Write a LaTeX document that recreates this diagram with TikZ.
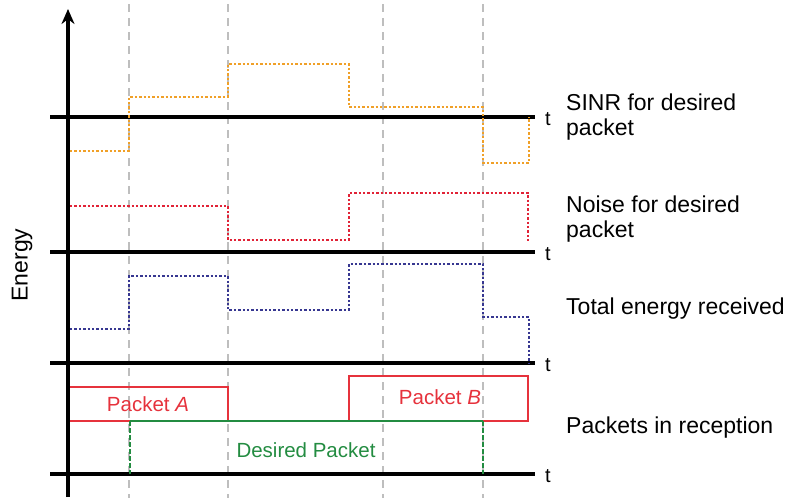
\documentclass[tikz,border=0pt]{standalone}
\usepackage{fontspec}
\setmainfont{Liberation Sans}
\usetikzlibrary{arrows.meta}
\definecolor{sinrc}{RGB}{240,160,40}
\definecolor{noisec}{RGB}{225,35,55}
\definecolor{totalc}{RGB}{55,55,145}
\definecolor{pkta}{RGB}{230,50,60}
\definecolor{pktd}{RGB}{35,140,65}
\definecolor{gridc}{RGB}{190,190,190}
\tikzset{
  timegrid/.style={gridc, line width=1.2pt, dash pattern=on 8pt off 6pt},
  taxis/.style={black, line width=3.2pt},
  signal/.style={line width=2.6pt, dash pattern=on 2.4pt off 2pt},
  pktbox/.style={line width=2.2pt},
  tlabel/.style={font=\fontsize{20}{22}\selectfont, anchor=west, inner sep=0pt},
  sidelabel/.style={font=\fontsize{23}{25.5}\selectfont, anchor=west, align=left, inner sep=0pt},
  pktlabel/.style={font=\fontsize{20.5}{23}\selectfont, inner sep=0pt}
}
\begin{document}
\begin{tikzpicture}[x=1pt,y=-1pt]
\useasboundingbox (0,0) rectangle (789,498);

% event instants
\foreach \tx in {129,228,383,483}
  \draw[timegrid] (\tx,4) -- (\tx,498);

% time axes
\foreach \ty/\nm in {117/sinr,252/noise,363/total,474/pkts} {
  \coordinate (\nm-s) at (50,\ty);
  \coordinate (\nm-e) at (535,\ty);
  \draw[taxis] (\nm-s) -- (\nm-e);
  \node[tlabel] (\nm-t) at (545,\ty+2) {t};
}

% energy axis
\coordinate (ax-b) at (68,497);
\coordinate (ax-t) at (68,9);
\draw[taxis, -{Stealth[length=15pt,width=13pt]}] (ax-b) -- (ax-t);
\node[font=\fontsize{23}{25}\selectfont, rotate=90, inner sep=0pt] (energy) at (22,265) {Energy};

% SINR for the desired packet
\draw[signal, sinrc] (70,151) -- (129,151) -- (129,97) -- (228,97) -- (228,64)
  -- (349,64) -- (349,107) -- (483,107) -- (483,163) -- (529,163) -- (529,117);

% noise for the desired packet
\draw[signal, noisec] (70,206) -- (228,206) -- (228,240) -- (349,240) -- (349,193)
  -- (528,193) -- (528,241);

% total received energy
\draw[signal, totalc] (70,329) -- (129,329) -- (129,276) -- (228,276) -- (228,310)
  -- (349,310) -- (349,264) -- (483,264) -- (483,317) -- (529,317) -- (529,363);

% packets in reception
\draw[pktbox, pkta] (70,387) -- (228,387) -- (228,421) -- (70,421);
\draw[pktbox, pkta] (349,421) -- (349,376) -- (528,376) -- (528,421) -- (483,421);
\draw[pktbox, pktd] (130,421) -- (483,421);
\draw[pktbox, pktd, dash pattern=on 5pt off 2pt] (130,421) -- (130,474);
\draw[pktbox, pktd, dash pattern=on 5pt off 2pt] (483,421) -- (483,474);
\node[pktlabel, text=pkta] (pa) at (148,404) {Packet \textit{A}};
\node[pktlabel, text=pkta] (pb) at (440,397) {Packet \textit{B}};
\node[pktlabel, text=pktd] (pd) at (306,450) {Desired Packet};

% row descriptions
\node[sidelabel] (l-sinr) at (566,117) {SINR for desired\\packet};
\node[sidelabel] (l-noise) at (566,219) {Noise for desired\\packet};
\node[sidelabel] (l-total) at (566,309) {Total energy received};
\node[sidelabel] (l-pkts) at (566,428) {Packets in reception};
\end{tikzpicture}
\end{document}
